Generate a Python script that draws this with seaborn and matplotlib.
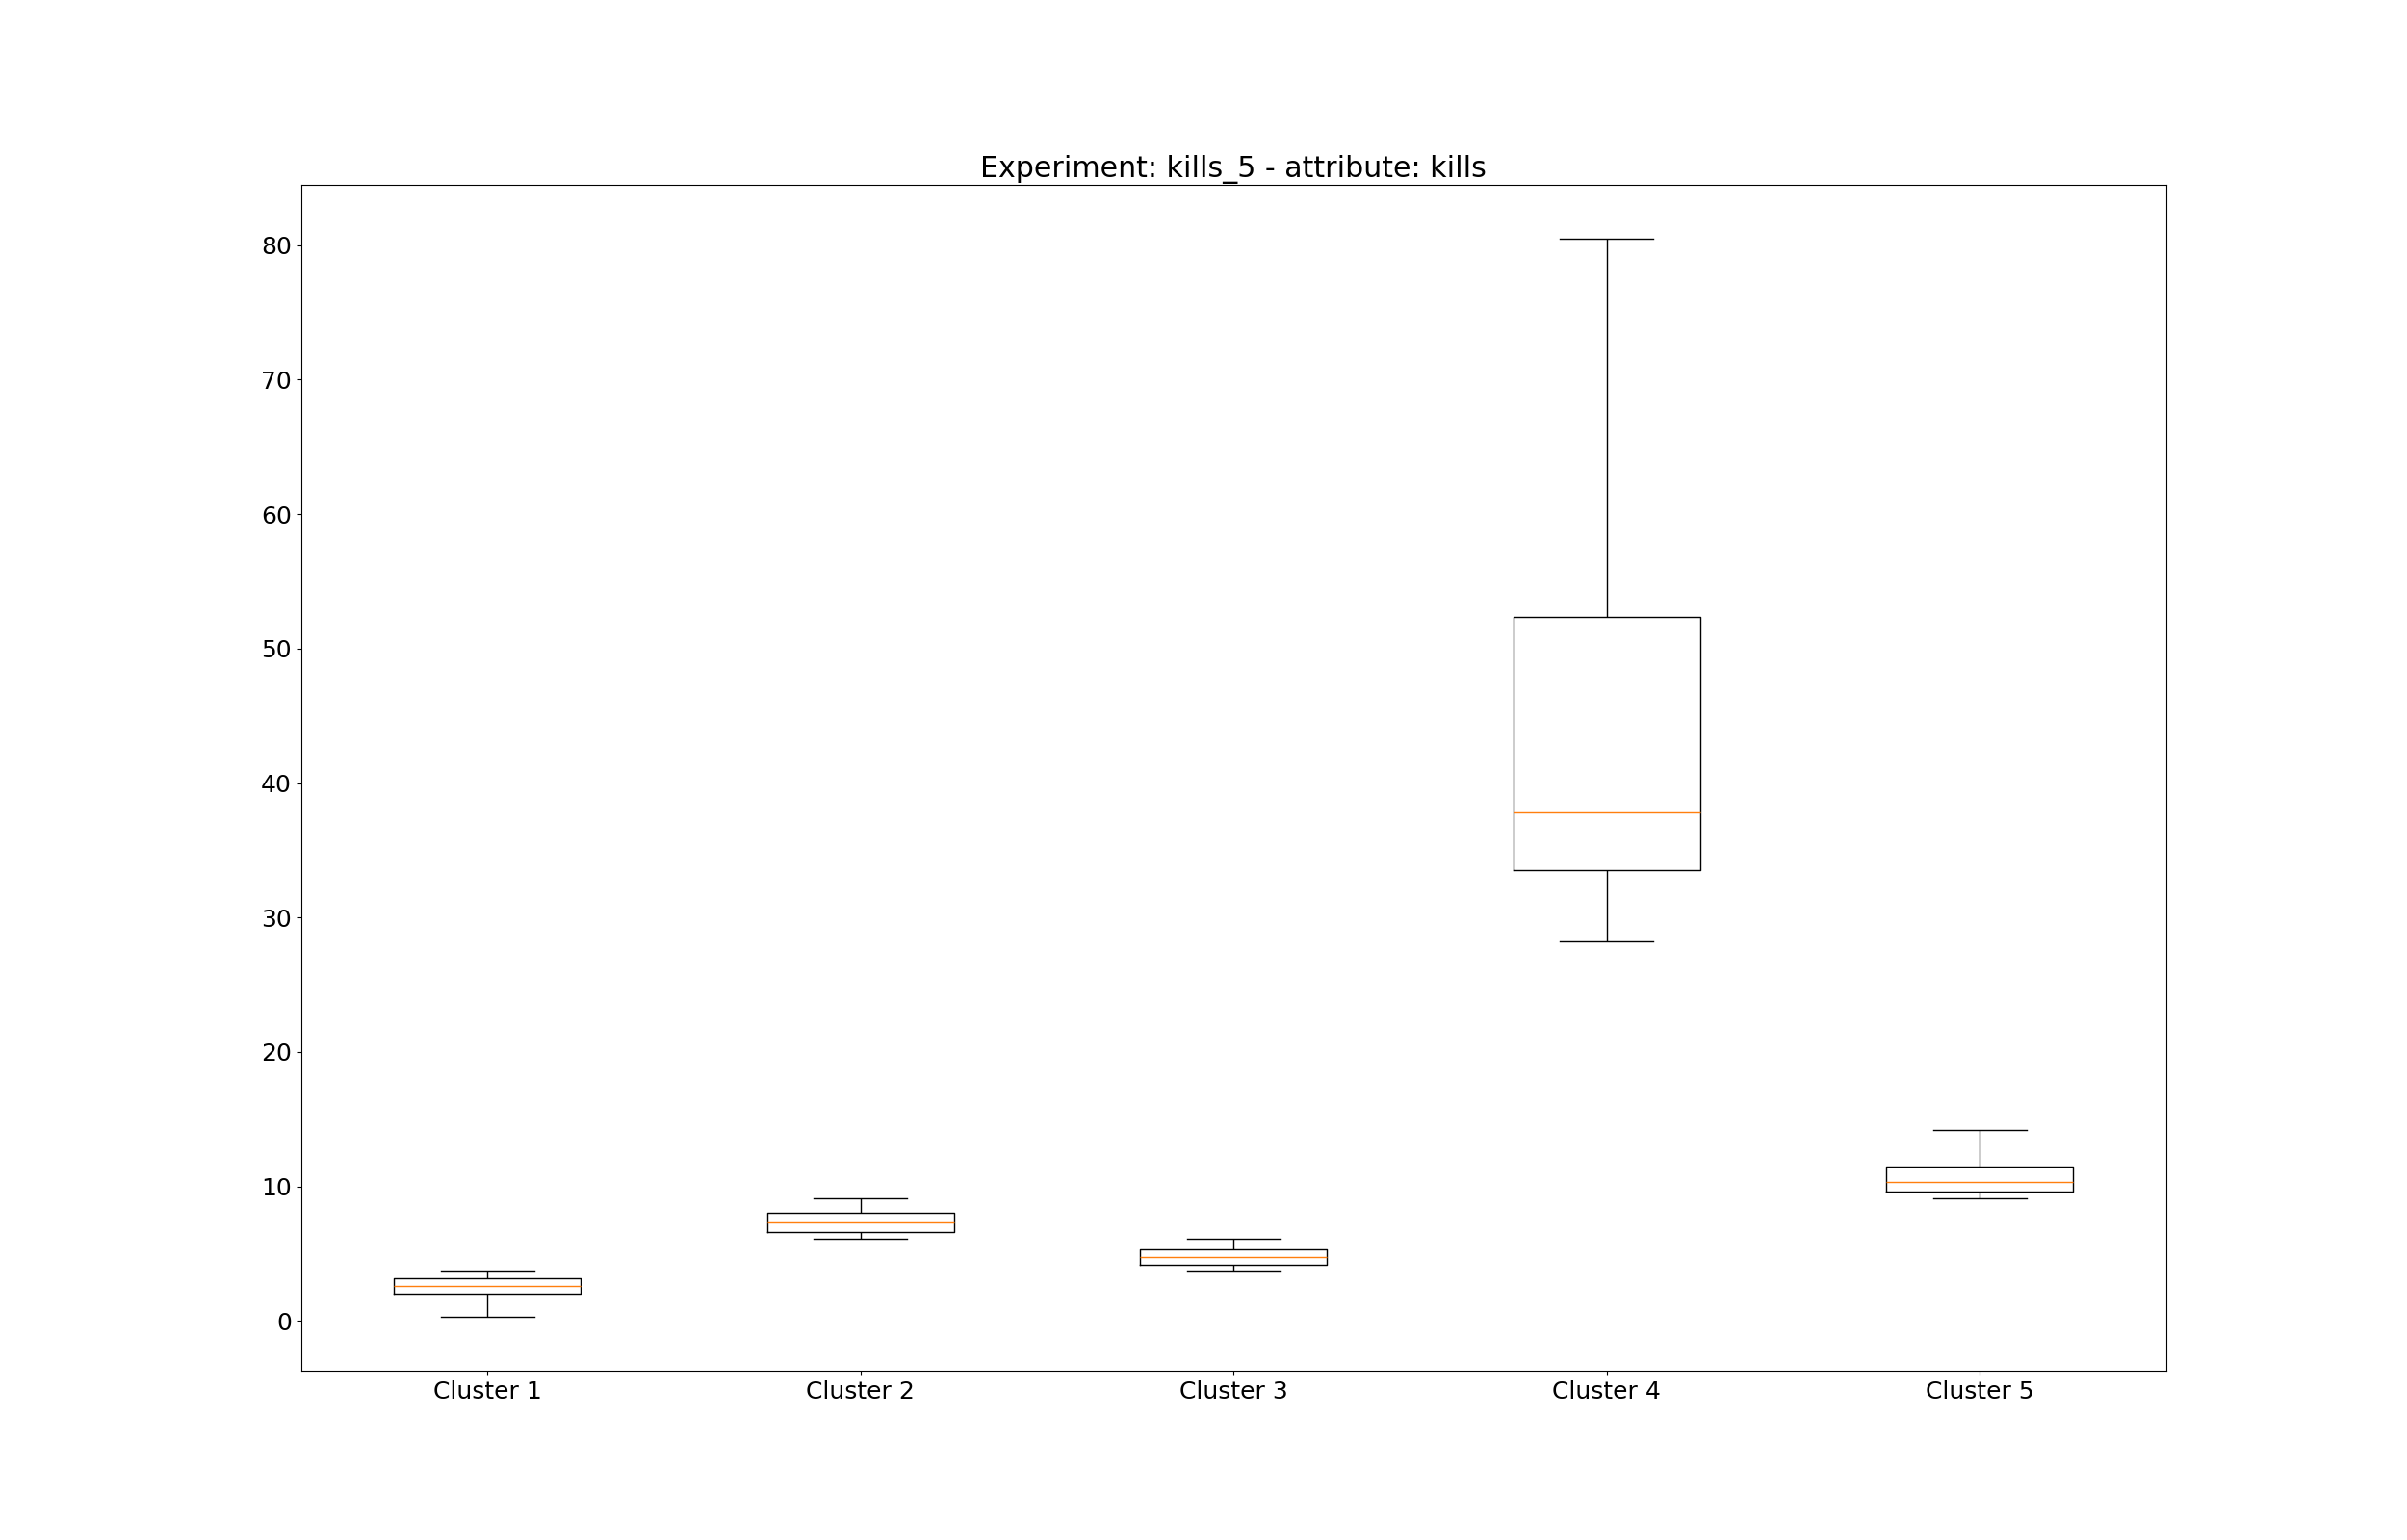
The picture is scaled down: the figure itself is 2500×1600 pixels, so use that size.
import matplotlib
matplotlib.use("Agg")
import matplotlib.pyplot as plt
import seaborn as sns
import pandas as pd

clusters = ["Cluster 1", "Cluster 2", "Cluster 3", "Cluster 4", "Cluster 5"]
# five-number summaries: min, q1, median, q3, max
mins = [0.32, 6.10, 3.69, 28.22, 9.11]
q1s = [2.02, 6.64, 4.17, 33.49, 9.61]
medians = [2.59, 7.32, 4.74, 37.81, 10.32]
q3s = [3.16, 8.03, 5.35, 52.38, 11.47]
maxs = [3.69, 9.11, 6.12, 80.47, 14.21]

rows = []
for i, c in enumerate(clusters):
    for v in (mins[i], q1s[i], medians[i], q3s[i], maxs[i]):
        rows.append({"cluster": c, "kills": v})
df = pd.DataFrame(rows)

plt.rcParams["font.size"] = 18
plt.rcParams["font.family"] = ["DejaVu Sans"]

fig, ax = plt.subplots(figsize=(25, 16), dpi=100)
sns.boxplot(
    data=df, x="cluster", y="kills", order=clusters, ax=ax,
    fill=False, color="black", width=0.5, linewidth=1.0,
    whis=(0, 100),
    medianprops={"color": "#ff7f0e", "linewidth": 1.0},
)
ax.set_xlabel("")
ax.set_ylabel("")
ax.set_title("Experiment: kills_5 - attribute: kills")
fig.savefig("out.png", dpi=100)
